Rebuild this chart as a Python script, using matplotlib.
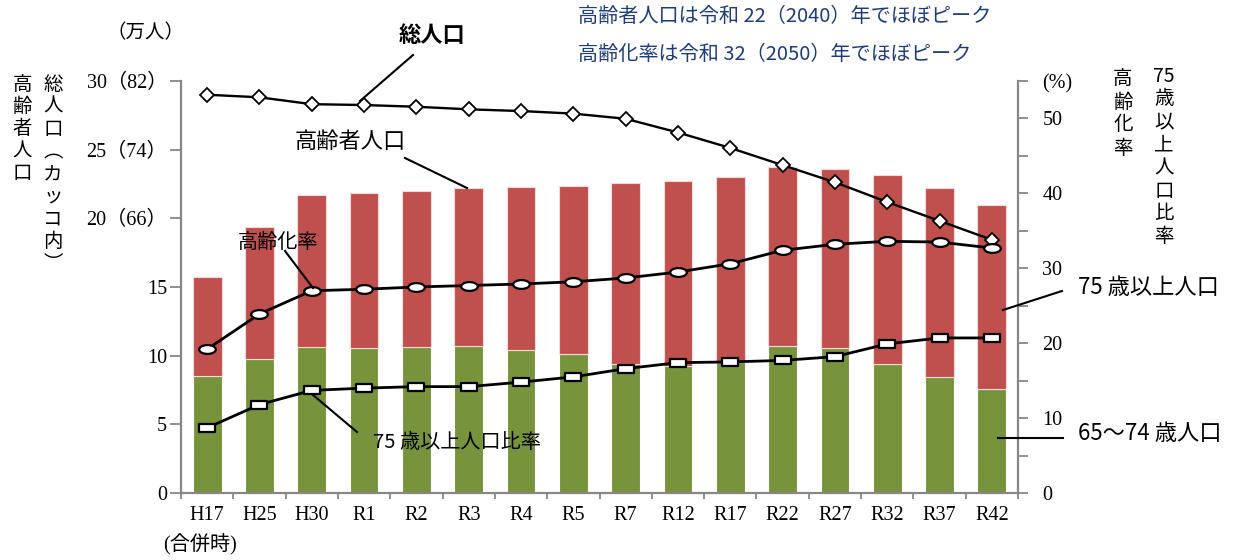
import matplotlib
matplotlib.use('Agg')
import matplotlib.pyplot as plt
import numpy as np
from matplotlib.path import Path
from matplotlib.transforms import Affine2D

# ---------------- data ----------------
categories = ['H17', 'H25', 'H30', 'R1', 'R2', 'R3', 'R4', 'R5',
              'R7', 'R12', 'R17', 'R22', 'R27', 'R32', 'R37', 'R42']
pop_65_74 = [8.52, 9.76, 10.63, 10.54, 10.63, 10.73, 10.44, 10.12,
             9.40, 9.25, 9.52, 10.73, 10.54, 9.40, 8.43, 7.57]          # 万人
pop_75_plus = [7.21, 9.64, 11.07, 11.29, 11.39, 11.51, 11.85, 12.26,
               13.20, 13.47, 13.47, 12.99, 13.08, 13.78, 13.81, 13.43]  # 万人
total_pop = [80.4, 80.1, 79.3, 79.2, 79.0, 78.7, 78.5, 78.2,
             77.6, 76.0, 74.2, 72.2, 70.2, 67.9, 65.7, 63.5]            # 万人
aging_rate = [19.2, 23.9, 27.0, 27.2, 27.5, 27.7, 27.9, 28.2,
              28.7, 29.5, 30.6, 32.4, 33.2, 33.6, 33.5, 32.7]           # %
ratio_75 = [8.7, 11.8, 13.7, 14.0, 14.2, 14.2, 14.8, 15.5,
            16.6, 17.4, 17.5, 17.7, 18.2, 19.9, 20.7, 20.7]             # %
left_ticks = [0, 5, 10, 15, 20, 25, 30]
left_tick_labels = ['0', '5', '10', '15', '20（66）', '25（74）', '30（82）']
right_ticks = [0, 5, 10, 15, 20, 25, 30, 35, 40, 45, 50, 55]
right_tick_labels = ['0', '', '10', '', '20', '', '30', '', '40', '', '50', '(%)']
# total population axis mapping: left value v  <->  total = 34 + 1.6 v
TOTAL_OFFSET, TOTAL_SCALE = 34.0, 1.6

# ---------------- style ----------------
W, H = 1236, 560
RED = '#C0504D'
GREEN = '#77933C'
GRAY = '#878787'
NAVY = '#1F3C7A'
JP = ['Noto Sans CJK JP', 'DejaVu Sans']
SERIF = ['Liberation Serif', 'Noto Sans CJK JP', 'DejaVu Sans']
plt.rcParams['font.family'] = JP

fig = plt.figure(figsize=(W / 100, H / 100), dpi=100)
L, R, B, T = 181, 1018, 493, 81
ax = fig.add_axes([L / W, 1 - B / H, (R - L) / W, (B - T) / H])
ax2 = ax.twinx()

x = np.arange(len(categories))
bw = 0.55
ax.bar(x, pop_65_74, width=bw, color=GREEN, edgecolor='white', linewidth=0.8, zorder=2)
ax.bar(x, pop_75_plus, width=bw, bottom=pop_65_74, color=RED, edgecolor='#F4DADA',
       linewidth=0.8, zorder=2)

total_scaled = [(t - TOTAL_OFFSET) / TOTAL_SCALE for t in total_pop]
ax.plot(x, total_scaled, color='black', lw=1.7, marker='D', ms=7.5,
        mfc='white', mec='black', mew=1.3, zorder=5)

ellipse = Path.unit_circle().transformed(Affine2D().scale(1.0, 0.53))
rect = Path([(-1, -0.5), (1, -0.5), (1, 0.5), (-1, 0.5), (-1, -0.5)],
            [Path.MOVETO, Path.LINETO, Path.LINETO, Path.LINETO, Path.CLOSEPOLY])
ax2.plot(x, aging_rate, color='black', lw=2.0, marker=ellipse, ms=12,
         mfc='white', mec='black', mew=1.6, zorder=5)
ax2.plot(x, ratio_75, color='black', lw=2.0, marker=rect, ms=11.5,
         mfc='white', mec='black', mew=1.6, zorder=5)

ax.set_xlim(-0.5, len(categories) - 0.5)
ax.set_ylim(0, 30)
ax2.set_ylim(0, 55)

# x axis
ax.set_xticks(x)
ax.set_xticklabels(categories, fontfamily=SERIF, fontsize=14.5)
ax.set_xticks(np.arange(-0.5, len(categories), 1.0), minor=True)
ax.tick_params(axis='x', which='major', length=0, pad=9)
ax.tick_params(axis='x', which='minor', length=4, width=1.3, color=GRAY, direction='out')

# left axis
ax.set_yticks(left_ticks)
ax.set_yticklabels(left_tick_labels, fontfamily=SERIF, fontsize=14.5)
ax.tick_params(axis='y', length=8, width=1.3, color=GRAY, pad=2)

# right axis
ax2.set_yticks(right_ticks)
ax2.set_yticklabels(right_tick_labels, fontfamily=SERIF, fontsize=14.5)
ax2.tick_params(axis='y', length=7.5, width=1.3, color=GRAY, pad=10)

for a in (ax, ax2):
    a.spines['top'].set_visible(False)
    for s in ('left', 'right', 'bottom'):
        a.spines[s].set_color(GRAY)
        a.spines[s].set_linewidth(1.6)
ax.spines['right'].set_visible(False)
ax2.spines['left'].set_visible(False)
ax2.spines['bottom'].set_visible(False)
ax.set_zorder(1)
ax2.set_zorder(2)
ax2.patch.set_visible(False)

# ---------------- overlay for texts / leader lines ----------------
ov = fig.add_axes([0, 0, 1, 1], zorder=10)
ov.set_xlim(0, W)
ov.set_ylim(H, 0)
ov.axis('off')
ov.patch.set_visible(False)


def vtext(xc, y0, items, step, size=14, **kw):
    for i, ch in enumerate(items):
        ov.text(xc, y0 + i * step, ch, ha='center', va='center', fontsize=size,
                fontfamily=JP, **kw)


vtext(22, 84, list('高齢者人口'), 22.5)
vtext(53, 84, ['総', '人', '口', '︵', 'カ', 'ッ', 'コ', '内', '︶'], 22.5)
vtext(1123, 79, list('高齢化率'), 23)
vtext(1164, 76, ['75', '歳', '以', '上', '人', '口', '比', '率'], 23)

ov.text(145, 33, '（万人）', ha='center', va='center', fontsize=14, fontfamily=SERIF)
ov.text(200, 545, '(合併時)', ha='center', va='center', fontsize=14.5, fontfamily=SERIF)

ov.text(578, 16, '高齢者人口は令和 22（2040）年でほぼピーク', ha='left', va='center',
        fontsize=14.5, color=NAVY)
ov.text(578, 54, '高齢化率は令和 32（2050）年でほぼピーク', ha='left', va='center',
        fontsize=14.5, color=NAVY)

ov.text(432, 36, '総人口', ha='center', va='center', fontsize=16, fontweight='bold')
ov.plot([413, 360], [55, 101], color='black', lw=1.5)

ov.text(350, 142, '高齢者人口', ha='center', va='center', fontsize=16)
ov.plot([405, 467], [158, 188], color='black', lw=1.5)

ov.text(278, 242, '高齢化率', ha='center', va='center', fontsize=14.5)
ov.plot([285, 313], [251, 288], color='black', lw=1.5)

ov.text(457, 442, '75 歳以上人口比率', ha='center', va='center', fontsize=14.5)
ov.plot([313, 357], [395, 432], color='black', lw=1.5)

ov.text(1148, 288, '75 歳以上人口', ha='center', va='center', fontsize=16)
ov.plot([1062, 1003], [291, 310], color='black', lw=1.5)

ov.text(1150, 434, '65～74 歳人口', ha='center', va='center', fontsize=16)
ov.plot([998, 1063], [438, 438], color='black', lw=1.5)

fig.savefig('out.png', dpi=100)
